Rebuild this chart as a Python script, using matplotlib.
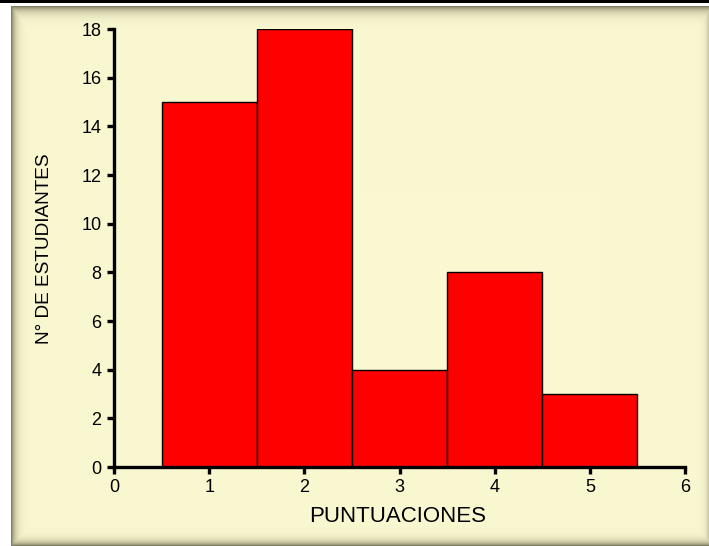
import matplotlib
import numpy as np

matplotlib.use("Agg")
import matplotlib.pyplot as plt

plt.rcParams["font.family"] = ["Liberation Sans", "DejaVu Sans"]

# data
puntuaciones = [1, 2, 3, 4, 5]
estudiantes = [15, 18, 4, 8, 3]
x_ticks = [0, 1, 2, 3, 4, 5, 6]
y_ticks = [0, 2, 4, 6, 8, 10, 12, 14, 16, 18]

W, H = 709, 546
fig = plt.figure(figsize=(W / 100, H / 100), dpi=100)
fig.patch.set_facecolor("white")

# cream panel with a soft inner shadow along the edges
cream = np.array([250, 248, 208]) / 255.0
shade = np.array([110, 108, 80]) / 255.0
img = np.ones((H, W, 3))
y0, x0 = 6, 11
ph, pw = H - y0, W - x0
yy, xx = np.mgrid[0:ph, 0:pw]
d_left = np.exp(-xx / 4.0)
d_top = np.exp(-yy / 5.0)
d_bot = np.exp(-(ph - 1 - yy) / 4.0)
d_right = 0.4 * np.exp(-(pw - 1 - xx) / 3.0)
k = np.clip(np.maximum.reduce([d_left, d_top, d_bot, d_right]), 0, 1)[..., None] * 0.85
img[y0:, x0:] = cream * (1 - k) + shade * k
img[0:3, :] = 0.0
bg = fig.add_axes([0, 0, 1, 1], zorder=-1)
bg.imshow(img, aspect="auto", interpolation="bilinear")
bg.axis("off")

ax = fig.add_axes([114 / W, 1 - 467 / H, (685 - 114) / W, (467 - 29) / H])
ax.patch.set_alpha(0)
ax.bar(puntuaciones, estudiantes, width=1.0, color="#ff0000",
       edgecolor="black", linewidth=1.0)

ax.set_xlim(0, 6)
ax.set_ylim(0, 18)
ax.set_xticks(x_ticks)
ax.set_yticks(y_ticks)
for side in ("top", "right"):
    ax.spines[side].set_visible(False)
for side in ("left", "bottom"):
    ax.spines[side].set_linewidth(2.4)
ax.tick_params(direction="out", length=5, width=2.4, labelsize=13, pad=4)

ax.set_xlabel("PUNTUACIONES", fontsize=16)
ax.xaxis.set_label_coords(0.497, -0.114)
ax.xaxis.label.set_verticalalignment("center")
ax.set_ylabel("N° DE ESTUDIANTES", fontsize=13.7)
ax.yaxis.set_label_coords(-0.121, 0.498)
ax.yaxis.label.set_verticalalignment("center")

fig.savefig("out.png", dpi=100)
plt.close(fig)
